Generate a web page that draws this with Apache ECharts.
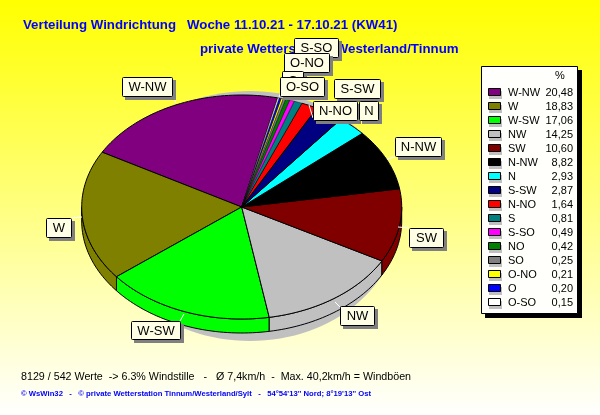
<!DOCTYPE html>
<html><head><meta charset="utf-8">
<style>html,body{margin:0;padding:0;background:#fff}#c{width:600px;height:415px}</style>
<script src="https://cdn.jsdelivr.net/npm/echarts@6/dist/echarts.min.js"></script>
</head><body><div id="c"></div>
<script>
const categories=['W-NW','W','W-SW','NW','SW','N-NW','N','S-SW','N-NO','S','S-SO','NO','SO','O-NO','O','O-SO'];
const percentages=[20.48,18.83,17.06,14.25,10.60,8.82,2.93,2.87,1.64,0.81,0.49,0.42,0.25,0.21,0.20,0.15];
const percentLabels=['20,48','18,83','17,06','14,25','10,60','8,82','2,93','2,87','1,64','0,81','0,49','0,42','0,25','0,21','0,20','0,15'];
const sliceColors=['#800080','#808000','#00ff00','#c0c0c0','#800000','#000000','#00ffff','#000080','#ff0000','#008080','#ff00ff','#008000','#808080','#ffff00','#0000ff','#ffffff'];
const titleLine1='Verteilung Windrichtung   Woche 11.10.21 - 17.10.21 (KW41)';
const titleLine2='private Wetterstation Westerland/Tinnum';
const statsLine='8129 / 542 Werte  -> 6.3% Windstille   -   Ø 7,4km/h  -  Max. 40,2km/h = Windböen';
const footerLine="© WsWin32   -   © private Wetterstation Tinnum/Westerland/Sylt   -   54°54'13'' Nord; 8°19'13'' Ost";

// layout only
const P={cx:241.7,cy:207,rx:160,ry:112,depth:14,start:77};
const labelBoxes=[
 ['W-NW',122,77,50,19],['W',46,218,25,19],['W-SW',131,321,49,18],['NW',340,306,34,19],['SW',409,228,34,19],['N-NW',395,137,46,19],
 ['S-SW',334,79,46,19],['N-NO',313,101,44,19],['N',359,101,19,19],['S-SO',294,38,44,19],['O-NO',284,53,45,19],['O',282,71,21,19],['O-SO',280,77,44,19]];
const leaders=[[174,98,176,103],[71,218,82,217],[398,227,409,228],[387,159,395,157],[335,302,340,307],[184,314,180,321],[309,105,313,118],[281,92,279,97]];
const L={x:481,y:66,w:96,h:247,row0:92,step:14};

const total=percentages.reduce((a,b)=>a+b,0);
const starts=[];let acc=P.start;
percentages.forEach(v=>{starts.push(acc);acc+=v/total*360;});
const pt=(deg,dy)=>{const r=deg*Math.PI/180;return [P.cx+P.rx*Math.cos(r),P.cy+dy-P.ry*Math.sin(r)];};
function arc(a0,a1,dy){const n=Math.max(2,Math.ceil((a1-a0)/1.5));const o=[];for(let i=0;i<=n;i++)o.push(pt(a0+(a1-a0)*i/n,dy));return o;}

function renderItem(params,api){
  const i=params.dataIndex;const v=api.value(0);const a0=starts[i];const a1=a0+v/total*360;
  const children=[];
  const s=Math.max(a0,180),e=Math.min(a1,360);
  const style={fill:sliceColors[i],stroke:'#000',lineWidth:v<1?0.45:1};
  if(e>s){children.push({type:'polygon',shape:{points:arc(s,e,0).concat(arc(s,e,P.depth).reverse())},style});}
  children.push({type:'polygon',z2:10,shape:{points:[[P.cx,P.cy]].concat(arc(a0,a1,0))},style});
  return {type:'group',children};
}

const graphics=[{type:'ellipse',z:1,shape:{cx:250,cy:216,rx:150,ry:125},style:{fill:'#c0c0c0'}}];
leaders.forEach(l=>graphics.push({type:'line',z:50,shape:{x1:l[0],y1:l[1],x2:l[2],y2:l[3]},style:{stroke:'#fff',lineWidth:1}}));
let z=60;
labelBoxes.forEach(b=>{
  graphics.push({type:'rect',z:z,shape:{x:b[1]+3,y:b[2]+3,width:b[3]+1,height:b[4]+1},style:{fill:'#808080'}});
  graphics.push({type:'rect',z:z+1,shape:{x:b[1]+.5,y:b[2]+.5,width:b[3],height:b[4],r:1},style:{fill:'#ffffe6',stroke:'#000',lineWidth:1}});
  graphics.push({type:'text',z:z+2,style:{text:b[0],x:b[1]+b[3]/2+.5,y:b[2]+b[4]/2+1,align:'center',verticalAlign:'middle',fill:'#000',font:'13px "Liberation Sans"'}});
  z+=3;
});
graphics.push({type:'rect',z:100,shape:{x:L.x+4,y:L.y+4,width:L.w+1,height:L.h+1},style:{fill:'#000'}});
graphics.push({type:'rect',z:101,shape:{x:L.x+.5,y:L.y+.5,width:L.w,height:L.h},style:{fill:'#fffffb',stroke:'#000',lineWidth:1}});
graphics.push({type:'text',z:102,style:{text:'%',x:560,y:76,align:'center',verticalAlign:'middle',fill:'#000',font:'11px "Liberation Sans"'}});
categories.forEach((c,i)=>{
  const y=L.row0+L.step*i;
  graphics.push({type:'rect',z:102,shape:{x:L.x+8,y:y-1,width:13,height:8},style:{fill:'#c0c0c0'}});
  graphics.push({type:'rect',z:103,shape:{x:L.x+7.5,y:y-3.5,width:12,height:7},style:{fill:sliceColors[i],stroke:'#000',lineWidth:1}});
  graphics.push({type:'text',z:104,style:{text:c,x:508,y:y+.5,align:'left',verticalAlign:'middle',fill:'#000',font:'11px "Liberation Sans"'}});
  graphics.push({type:'text',z:104,style:{text:percentLabels[i],x:573,y:y+.5,align:'right',verticalAlign:'middle',fill:'#000',font:'11px "Liberation Sans"'}});
});
graphics.push({type:'text',z:20,style:{text:statsLine,x:21,y:377,align:'left',verticalAlign:'middle',fill:'#000',font:'10.7px "Liberation Sans"'}});
graphics.push({type:'text',z:20,style:{text:footerLine,x:21,y:394,align:'left',verticalAlign:'middle',fill:'#0000ff',font:'bold 7.7px "Liberation Sans"'}});
graphics.push({type:'text',z:20,style:{text:titleLine1,x:23,y:25,align:'left',verticalAlign:'middle',fill:'#0000ff',font:'bold 13.25px "Liberation Sans"'}});
graphics.push({type:'text',z:20,style:{text:titleLine2,x:200,y:49,align:'left',verticalAlign:'middle',fill:'#0000ff',font:'bold 13.3px "Liberation Sans"'}});

const chart=echarts.init(document.getElementById('c'),null,{renderer:'canvas'});
chart.setOption({
  animation:false,
  backgroundColor:{type:'linear',x:0,y:0,x2:0,y2:1,colorStops:[{offset:0,color:'#ffff00'},{offset:1,color:'#ffffff'}]},
  xAxis:{show:false},yAxis:{show:false},grid:{show:false},
  series:[{type:'custom',coordinateSystem:'none',z:2,silent:true,clip:false,renderItem,data:percentages.map((v,i)=>({name:categories[i],value:[v]}))}],
  graphic:{elements:graphics}
});
</script></body></html>
